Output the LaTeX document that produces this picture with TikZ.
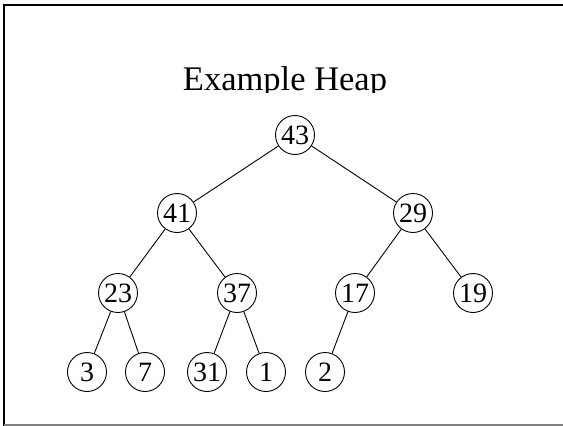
\documentclass[tikz,border=0pt]{standalone}
\usepackage{fontspec}
\setmainfont{Liberation Serif}
\begin{document}
\begin{tikzpicture}[x=1pt,y=-1pt,
  hnode/.style={draw,circle,line width=0.9pt,minimum size=39pt,inner sep=0pt,font=\fontsize{28}{28}\selectfont},
  edge/.style={line width=0.9pt}]
\useasboundingbox (0,0) rectangle (563,426);
\draw[line width=2pt] (4.3,426) -- (4.3,5.2) -- (563,5.2);
\draw[line width=2pt,gray] (4.3,424.8) -- (563,424.8);
\begin{scope}
\clip (0,0) rectangle (563,92);
\node[anchor=base,font=\fontsize{34.5}{34.5}\selectfont,inner sep=0pt] (title) at (285,90) {Example Heap};
\end{scope}
\node[hnode] (n43) at (295,135) {43};
\node[hnode] (n41) at (177,213) {41};
\node[hnode] (n29) at (413,213) {29};
\node[hnode] (n23) at (118,293) {23};
\node[hnode] (n37) at (237,293) {37};
\node[hnode] (n17) at (355,293) {17};
\node[hnode] (n19) at (473,293) {19};
\node[hnode] (n3) at (87,372) {3};
\node[hnode] (n7) at (145,372) {7};
\node[hnode] (n31) at (207,372) {31};
\node[hnode] (n1) at (266,372) {1};
\node[hnode] (n2) at (325,372) {2};
\draw[edge] (n43) -- (n41);
\draw[edge] (n43) -- (n29);
\draw[edge] (n41) -- (n23);
\draw[edge] (n41) -- (n37);
\draw[edge] (n29) -- (n17);
\draw[edge] (n29) -- (n19);
\draw[edge] (n23) -- (n3);
\draw[edge] (n23) -- (n7);
\draw[edge] (n37) -- (n31);
\draw[edge] (n37) -- (n1);
\draw[edge] (n17) -- (n2);
\end{tikzpicture}
\end{document}
